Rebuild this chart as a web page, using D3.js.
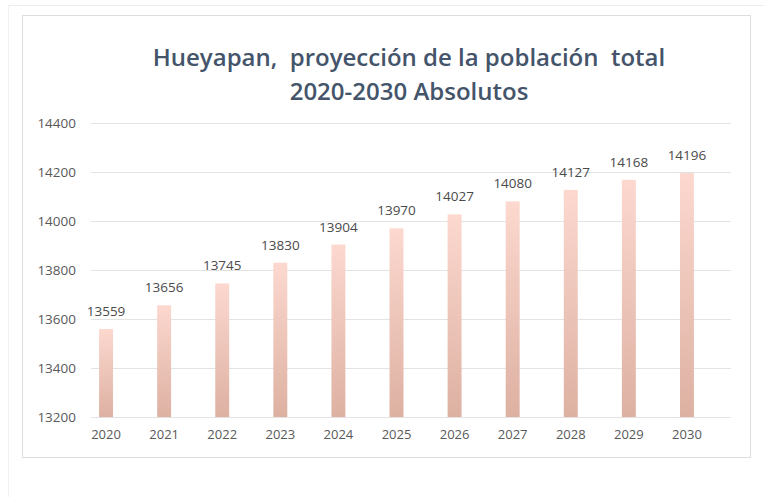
<!DOCTYPE html>
<html><head><meta charset="utf-8">
<script src="https://cdn.jsdelivr.net/npm/d3@7"></script>
<style>body{margin:0;background:#fff}svg{display:block}</style>
</head><body>
<script>
const years = ["2020","2021","2022","2023","2024","2025","2026","2027","2028","2029","2030"];
const population = [13559,13656,13745,13830,13904,13970,14027,14080,14127,14168,14196];
const yTicks = [13200,13400,13600,13800,14000,14200,14400];
const titleLines = ["Hueyapan,  proyección de la población  total","2020-2030 Absolutos"];

const W=764,H=497;
const svg=d3.select("body").append("svg").attr("width",W).attr("height",H);
const defs=svg.append("defs");
const g=defs.append("linearGradient").attr("id","barGrad").attr("x1",0).attr("y1",0).attr("x2",0).attr("y2",1);
g.append("stop").attr("offset","0%").attr("stop-color","#fcd8cf");
g.append("stop").attr("offset","100%").attr("stop-color","#ddb1a2");

// outer faint frame
svg.append("line").attr("x1",8).attr("x2",764).attr("y1",5.5).attr("y2",5.5).attr("stroke","#ececec");
svg.append("line").attr("x1",8.5).attr("x2",8.5).attr("y1",5).attr("y2",497).attr("stroke","#f2f2f2");
// panel
svg.append("rect").attr("x",22.5).attr("y",15.5).attr("width",728).attr("height",442)
  .attr("fill","#fff").attr("stroke","#dedede");

const x=d3.scaleBand().domain(years).range([77,716]).paddingInner(0.76).paddingOuter(0.38);
const y=d3.scaleLinear().domain([13200,14400]).range([417,123]);

const font="'Open Sans', Lato, sans-serif";

// gridlines
svg.append("g").selectAll("line").data(yTicks).join("line")
  .attr("x1",91).attr("x2",731).attr("y1",d=>Math.round(y(d))+0.5).attr("y2",d=>Math.round(y(d))+0.5)
  .attr("stroke","#e3e3e3").attr("stroke-width",1);

// y axis labels
const yAxis=d3.axisLeft(y).tickValues(yTicks).tickSize(0).tickPadding(0).tickFormat(d3.format("d"));
const ya=svg.append("g").attr("transform","translate(76,0)").call(yAxis);
ya.select(".domain").remove();
ya.selectAll("text").attr("fill","#595959").style("font-family",font).style("font-size","13.5px");

// x axis labels
const xAxis=d3.axisBottom(x).tickSize(0).tickPadding(0);
const xa=svg.append("g").attr("transform","translate(0,430)").call(xAxis);
xa.select(".domain").remove();
xa.selectAll("text").attr("fill","#595959").style("font-family",font).style("font-size","13px");

// bars
svg.append("g").selectAll("rect").data(population).join("rect")
  .attr("x",(d,i)=>x(years[i])).attr("width",x.bandwidth())
  .attr("y",d=>y(d)).attr("height",d=>y(13200)-y(d))
  .attr("fill","url(#barGrad)");

// data labels
svg.append("g").selectAll("text").data(population).join("text")
  .attr("x",(d,i)=>x(years[i])+x.bandwidth()/2).attr("y",d=>y(d)-13)
  .attr("text-anchor","middle").attr("fill","#4a4a4a")
  .style("font-family",font).style("font-size","13.5px")
  .text(d=>d);

// title
svg.append("g").selectAll("text").data(titleLines).join("text")
  .attr("x",409).attr("y",(d,i)=>66+i*34).attr("text-anchor","middle")
  .attr("fill","#44546a").style("font-family",font)
  .style("font-weight","600").style("font-size","24px").style("white-space","pre")
  .attr("xml:space","preserve")
  .text(d=>d);
</script>
</body></html>
